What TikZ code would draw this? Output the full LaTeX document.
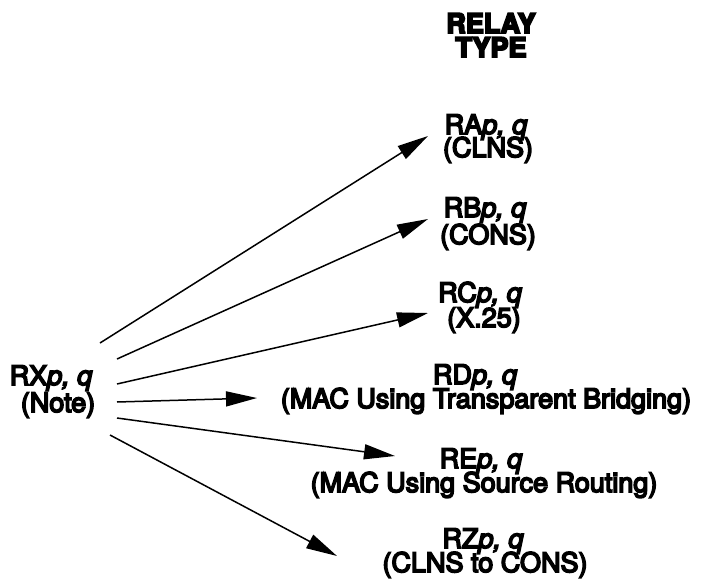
\documentclass[tikz,border=0pt]{standalone}
\usepackage{fontspec}
\setmainfont{TeX Gyre Heros}
\newfontfamily\labfont{TeX Gyre Heros}[FakeBold=6]
\newfontfamily\headfont{TeX Gyre Heros Bold}[FakeBold=7]
\usetikzlibrary{arrows.meta}
\begin{document}
\begin{tikzpicture}[x=1pt,y=-1pt,
  lab/.style={font=\labfont\fontsize{27}{24}\selectfont, inner sep=0pt, anchor=base},
  head/.style={font=\headfont\fontsize{27}{23}\selectfont, inner sep=0pt, anchor=base},
  arr/.style={line width=1.5pt, -{Triangle[length=31pt,width=15pt]}}]
\fill[white] (0,0) rectangle (704,586);
\useasboundingbox (0,0) rectangle (704,586);
% heading
\node[head] (relay) at (491,33) {RELAY};
\node[head] (type) at (491,57) {TYPE};
% source
\node[lab] (rx) at (51,385) {RX{\itshape p, q}};
\node[lab] (rxn) at (58,412) {(Note)};
% targets
\node[lab] (ra) at (486,134) {RA{\itshape p, q}};
\node[lab] (ran) at (488,157) {(CLNS)};
\node[lab] (rb) at (485,217) {RB{\itshape p, q}};
\node[lab] (rbn) at (488,244) {(CONS)};
\node[lab] (rc) at (480,302) {RC{\itshape p, q}};
\node[lab] (rcn) at (484,327) {(X.25)};
\node[lab] (rd) at (475,384) {RD{\itshape p, q}};
\node[lab] (rdn) at (486,408) {(MAC Using Transparent Bridging)};
\node[lab] (re) at (481,468) {RE{\itshape p, q}};
\node[lab] (ren) at (484,492) {(MAC Using Source Routing)};
\node[lab] (rz) at (483,548) {RZ{\itshape p, q}};
\node[lab] (rzn) at (485,572) {(CLNS to CONS)};
% connector ends
\coordinate (s1) at (100,343); \coordinate (t1) at (428,136);
\coordinate (s2) at (117,359); \coordinate (t2) at (428,219);
\coordinate (s3) at (117,384); \coordinate (t3) at (428,313);
\coordinate (s4) at (117,402); \coordinate (t4) at (257,398);
\coordinate (s5) at (117,418); \coordinate (t5) at (395,456);
\coordinate (s6) at (110,435); \coordinate (t6) at (337,556);
\draw[arr] (s1) -- (t1);
\draw[arr] (s2) -- (t2);
\draw[arr] (s3) -- (t3);
\draw[arr] (s4) -- (t4);
\draw[arr] (s5) -- (t5);
\draw[arr] (s6) -- (t6);
\end{tikzpicture}
\end{document}
